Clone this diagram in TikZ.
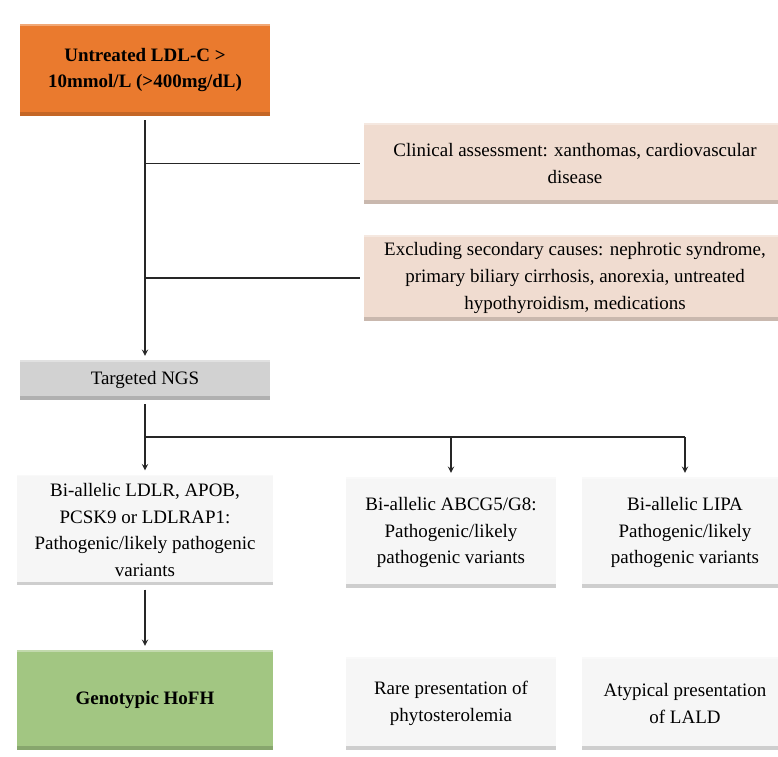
\documentclass[tikz,border=0pt]{standalone}
\usepackage{fontspec}
\setmainfont{Liberation Serif}
\usetikzlibrary{shadows}

\definecolor{ldlorange}{RGB}{234,122,46}
\definecolor{clinpink}{RGB}{240,220,208}
\definecolor{ngsgray}{RGB}{210,210,210}
\definecolor{resultwhite}{RGB}{246,246,246}
\definecolor{hofhgreen}{RGB}{162,198,130}

\tikzset{
	box/.style={draw=white, line width=3pt, align=center, inner sep=2pt,
		font=\fontsize{13.5}{19}\selectfont,
		drop shadow={opacity=0.28, shadow xshift=0.4pt, shadow yshift=-1.2pt, shadow scale=1.01},
		path picture={
			\fill [black, opacity=0.16] (path picture bounding box.south west)
				rectangle ([yshift=4pt]path picture bounding box.south east);
			\fill [white, opacity=0.35] (path picture bounding box.north west)
				rectangle ([yshift=-2.5pt]path picture bounding box.north east);
		}},
	startbox/.style={box, fill=ldlorange, font=\fontsize{13.5}{19}\selectfont\bfseries},
	clinbox/.style={box, fill=clinpink},
	ngsbox/.style={box, fill=ngsgray},
	resbox/.style={box, fill=resultwhite},
	hofhbox/.style={box, fill=hofhgreen, font=\fontsize{13.5}{19}\selectfont\bfseries},
	link/.style={line width=1pt, black!85}
}

\begin{document}
\begin{tikzpicture}[>=stealth]
	\useasboundingbox (0,0) rectangle (19.45,-18.9);

	%% Entry criterion
	\node [startbox, minimum width=6.35cm, minimum height=2.4cm] (ldl) at (3.625,-1.75)
		{Untreated LDL-C >\\10mmol/L (>400mg/dL)};

	%% Clinical work-up
	\node [clinbox, minimum width=10.65cm, minimum height=2.125cm] (clin) at (14.375,-4.0875)
		{Clinical assessment: xanthomas, cardiovascular\\disease};
	\node [clinbox, minimum width=10.65cm, minimum height=2.25cm] (excl) at (14.375,-6.95)
		{Excluding secondary causes: nephrotic syndrome,\\primary biliary cirrhosis, anorexia, untreated\\hypothyroidism, medications};

	%% Sequencing
	\node [ngsbox, minimum width=6.35cm, minimum height=1.1cm] (ngs) at (3.625,-9.5)
		{Targeted NGS};

	%% Genetic findings
	\node [resbox, minimum width=6.5cm, minimum height=2.875cm] (ldlr) at (3.625,-13.25)
		{Bi-allelic LDLR, APOB,\\PCSK9 or LDLRAP1:\\Pathogenic/likely pathogenic\\variants};
	\node [resbox, minimum width=5.375cm, minimum height=2.875cm] (abcg) at (11.275,-13.3125)
		{Bi-allelic ABCG5/G8:\\Pathogenic/likely\\pathogenic variants};
	\node [resbox, minimum width=5.25cm, minimum height=2.875cm] (lipa) at (17.125,-13.3125)
		{Bi-allelic LIPA\\Pathogenic/likely\\pathogenic variants};

	%% Diagnoses
	\node [hofhbox, minimum width=6.5cm, minimum height=2.6cm] (hofh) at (3.625,-17.5)
		{Genotypic HoFH};
	\node [resbox, minimum width=5.375cm, minimum height=2.425cm] (phyto) at (11.275,-17.5875)
		{Rare presentation of\\phytosterolemia};
	\node [resbox, minimum width=5.25cm, minimum height=2.425cm] (lald) at (17.125,-17.5875)
		{Atypical presentation\\of LALD};

	%% Trunk and side branches
	\draw [link,->] (ldl.south) -- (ngs.north);
	\draw [link] (clin.west) -- (clin.west -| ldl.south);
	\draw [link] (excl.west) -- (excl.west -| ldl.south);

	%% Split after sequencing
	\coordinate (split) at (3.625,-10.925);
	\draw [link] (ngs.south) -- (split) -- (split -| lipa.north);
	\draw [link,->] (split) -- (ldlr.north);
	\draw [link,->] (split -| abcg.north) -- (abcg.north);
	\draw [link,->] (split -| lipa.north) -- (lipa.north);
	\draw [link,->] (ldlr.south) -- (hofh.north);
\end{tikzpicture}
\end{document}
